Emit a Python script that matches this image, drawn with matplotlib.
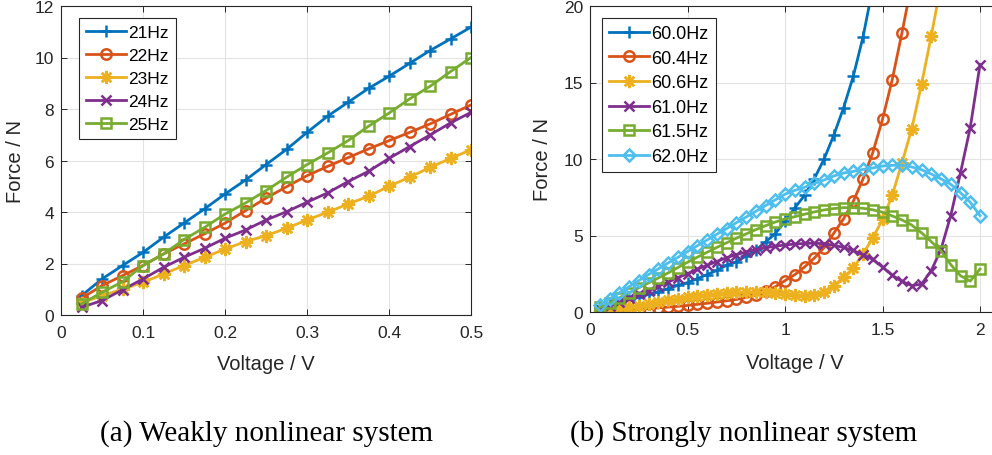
import numpy as np
import matplotlib
matplotlib.use("Agg")
import matplotlib.pyplot as plt

# (a) weakly nonlinear: voltage 0.025..0.5 V
volt_a = np.round(np.arange(1, 21) * 0.025, 3)
labels_a = ["21Hz", "22Hz", "23Hz", "24Hz", "25Hz"]
f21 = [0.75, 1.40, 1.92, 2.43, 3.02, 3.57, 4.12, 4.70, 5.24, 5.84,
       6.43, 7.09, 7.72, 8.26, 8.80, 9.27, 9.77, 10.27, 10.72, 11.18]
f22 = [0.65, 1.14, 1.53, 1.92, 2.37, 2.76, 3.15, 3.57, 4.05, 4.54,
       4.98, 5.41, 5.77, 6.11, 6.45, 6.77, 7.09, 7.42, 7.79, 8.16]
f23 = [0.47, 0.75, 1.00, 1.27, 1.59, 1.92, 2.24, 2.56, 2.85, 3.08,
       3.37, 3.69, 3.99, 4.31, 4.61, 5.00, 5.35, 5.73, 6.08, 6.42]
f24 = [0.30, 0.56, 0.98, 1.40, 1.85, 2.24, 2.59, 2.98, 3.30, 3.69,
       4.01, 4.38, 4.74, 5.18, 5.58, 6.08, 6.54, 6.99, 7.46, 7.87]
f25 = [0.43, 0.88, 1.29, 1.92, 2.37, 2.93, 3.40, 3.92, 4.35, 4.83,
       5.35, 5.84, 6.29, 6.77, 7.33, 7.84, 8.39, 8.88, 9.45, 10.00]

# (b) strongly nonlinear: voltage 0.05..2.0 V (some curves leave the plot early)
volt_b = np.round(np.arange(1, 41) * 0.05, 2)
labels_b = ["60.0Hz", "60.4Hz", "60.6Hz", "61.0Hz", "61.5Hz", "62.0Hz"]
f600 = [0.26, 0.44, 0.61, 0.76, 0.98, 1.15, 1.31, 1.53, 1.74, 1.92,
        2.18, 2.44, 2.72, 3.05, 3.27, 3.66, 4.03, 4.58, 5.12, 5.93,
        6.80, 7.62, 8.71, 9.98, 11.55, 13.33, 15.40, 17.97, 21.20]
f604 = [0.05, 0.08, 0.10, 0.13, 0.17, 0.22, 0.27, 0.32, 0.37, 0.43,
        0.50, 0.57, 0.65, 0.73, 0.82, 0.95, 1.10, 1.35, 1.65, 2.05,
        2.44, 2.94, 3.52, 4.20, 5.15, 6.08, 7.23, 8.69, 10.41, 12.59,
        15.19, 18.26, 21.50]
f606 = [0.07, 0.12, 0.20, 0.30, 0.42, 0.55, 0.67, 0.78, 0.88, 0.97,
        1.05, 1.12, 1.18, 1.25, 1.28, 1.30, 1.30, 1.28, 1.24, 1.18,
        1.11, 1.02, 1.10, 1.32, 1.72, 2.27, 2.88, 3.79, 4.84, 6.05,
        7.63, 9.76, 11.98, 14.88, 18.04, 21.40]
f610 = [0.20, 0.40, 0.65, 0.90, 1.15, 1.40, 1.68, 1.95, 2.25, 2.50,
        2.80, 3.05, 3.30, 3.55, 3.75, 3.92, 4.08, 4.20, 4.30, 4.38,
        4.44, 4.48, 4.50, 4.46, 4.36, 4.22, 4.02, 3.74, 3.44, 2.94,
        2.40, 2.00, 1.72, 1.82, 2.70, 4.10, 6.30, 9.10, 12.05, 16.17]
f615 = [0.30, 0.60, 0.92, 1.25, 1.58, 1.90, 2.22, 2.55, 2.90, 3.25,
        3.58, 3.90, 4.22, 4.52, 4.82, 5.10, 5.38, 5.64, 5.88, 6.08,
        6.23, 6.39, 6.54, 6.67, 6.76, 6.82, 6.82, 6.78, 6.68, 6.52,
        6.28, 6.02, 5.68, 5.18, 4.60, 4.00, 3.10, 2.37, 2.02, 2.81]
f620 = [0.45, 0.85, 1.25, 1.65, 2.05, 2.45, 2.82, 3.20, 3.57, 3.95,
        4.33, 4.70, 5.08, 5.45, 5.83, 6.20, 6.58, 6.95, 7.33, 7.70,
        7.95, 8.15, 8.40, 8.62, 8.89, 9.08, 9.19, 9.32, 9.41, 9.54,
        9.59, 9.59, 9.48, 9.30, 9.02, 8.70, 8.35, 7.80, 7.17, 6.30]

colors = ["#0072BD", "#D95319", "#EDB120", "#7E2F8E", "#77AC30", "#4DBEEE"]
asterisk = (8, 2, 0)

plt.rcParams["font.family"] = ["Liberation Sans", "DejaVu Sans"]
txt = "#262626"

fig = plt.figure(figsize=(9.92, 4.56), dpi=100)
ax1 = fig.add_axes([61 / 992, 140 / 456, 410 / 992, 309 / 456])
ax2 = fig.add_axes([590 / 992, 143 / 456, 409.5 / 992, 306 / 456])


def style_axes(ax):
    ax.grid(True, color="#e3e3e3", lw=0.8)
    ax.set_axisbelow(True)
    ax.tick_params(direction="in", top=True, right=True, length=4, width=0.7,
                   labelsize=12.5, colors=txt)
    ax.tick_params(axis="x", pad=7.5)
    ax.tick_params(axis="y", pad=5)
    for s in ax.spines.values():
        s.set_color(txt)
        s.set_linewidth(0.8)


def style_legend(leg):
    leg.get_frame().set_edgecolor(txt)
    leg.get_frame().set_linewidth(0.8)


# --- (a)
series_a = [f21, f22, f23, f24, f25]
marks_a = [("+", 9), ("o", 7.5), (asterisk, 9.5), ("x", 7.5), ("s", 6.5)]
for vals, lab, col, (m, ms) in zip(series_a, labels_a, colors, marks_a):
    ax1.plot(volt_a, vals, color=col, lw=2.0, marker=m, ms=ms, mew=1.8,
             mfc="none", label=lab)
ax1.set_xlim(0, 0.5)
ax1.set_ylim(0, 12)
ax1.set_xticks([0, 0.1, 0.2, 0.3, 0.4, 0.5])
ax1.set_xticklabels(["0", "0.1", "0.2", "0.3", "0.4", "0.5"])
ax1.set_yticks(range(0, 13, 2))
style_axes(ax1)
ax1.set_xlabel("Voltage / V", fontsize=14.5, color=txt)
ax1.set_ylabel("Force / N", fontsize=14.5, color=txt)
ax1.xaxis.set_label_coords(0.5, -0.127)
ax1.yaxis.set_label_coords(-0.088, 0.5)
leg1 = ax1.legend(loc="upper left", bbox_to_anchor=(0.044, 0.961), borderaxespad=0,
                  fontsize=12.5, handlelength=2.3, handletextpad=0.15,
                  labelspacing=0.45, borderpad=0.4, fancybox=False, framealpha=1)
style_legend(leg1)

# --- (b)
series_b = [f600, f604, f606, f610, f615, f620]
marks_b = [("+", 9), ("o", 7.5), (asterisk, 9.5), ("x", 6.5), ("s", 6.5), ("D", 6.5)]
for vals, lab, col, (m, ms) in zip(series_b, labels_b, colors, marks_b):
    ax2.plot(volt_b[:len(vals)], vals, color=col, lw=2.0, marker=m, ms=ms,
             mew=1.8, mfc="none", label=lab)
ax2.set_xlim(0, 2.1)
ax2.set_ylim(0, 20)
ax2.set_xticks([0, 0.5, 1, 1.5, 2])
ax2.set_xticklabels(["0", "0.5", "1", "1.5", "2"])
ax2.set_yticks([0, 5, 10, 15, 20])
style_axes(ax2)
ax2.set_xlabel("Voltage / V", fontsize=14.5, color=txt)
ax2.set_ylabel("Force / N", fontsize=14.5, color=txt)
ax2.xaxis.set_label_coords(0.5, -0.134)
ax2.yaxis.set_label_coords(-0.093, 0.5)
leg2 = ax2.legend(loc="upper left", bbox_to_anchor=(0.029, 0.961), borderaxespad=0,
                  fontsize=13, handlelength=2.2, handletextpad=0.15,
                  labelspacing=0.42, borderpad=0.4, fancybox=False, framealpha=1)
style_legend(leg2)

# captions
fig.text(267 / 992, 1 - 434 / 456, "(a) Weakly nonlinear system", ha="center",
         va="center", fontsize=21, family="Liberation Serif", color="black")
fig.text(744 / 992, 1 - 434 / 456, "(b) Strongly nonlinear system", ha="center",
         va="center", fontsize=21, family="Liberation Serif", color="black")

fig.savefig("out.png", dpi=100, facecolor="white")
